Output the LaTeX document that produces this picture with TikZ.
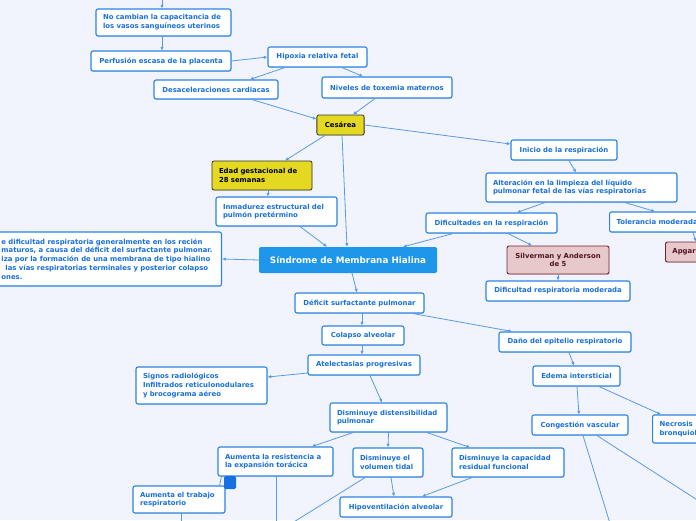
\documentclass[tikz,border=0pt]{standalone}
\usepackage{fontspec}
\setmainfont{DejaVu Sans}
\usetikzlibrary{arrows.meta,calc,shadows}

\definecolor{mapbg}{RGB}{241,244,252}
\definecolor{mapline}{RGB}{43,132,226}
\definecolor{maptext}{RGB}{24,112,220}
\definecolor{maplink}{RGB}{88,154,232}
\definecolor{mapmain}{RGB}{30,150,234}
\definecolor{mapyellow}{RGB}{228,216,32}
\definecolor{mappink}{RGB}{231,201,203}
\definecolor{mapmaroon}{RGB}{112,32,44}
\definecolor{maptoggle}{RGB}{22,112,226}

\begin{document}
\begin{tikzpicture}[
  x=1pt,y=-1pt,
  line cap=round,line join=round,
  mapfont/.style={font=\fontsize{6.9}{8.8}\selectfont\bfseries},
  mapbox/.style={mapfont,draw=mapline,line width=1.1pt,fill=white,
    text=maptext,rounded corners=2pt,inner xsep=8pt,inner ysep=2pt,
    drop shadow={shadow xshift=0.4pt,shadow yshift=-0.9pt,opacity=0.22}},
  leftbox/.style={mapbox,align=left,text width=#1,inner xsep=7pt,
    execute at begin node={\hyphenpenalty=10000}},
  keybox/.style={mapbox,fill=mapyellow,draw=black!80,text=black,
    line width=0.8pt},
  scalebox/.style={mapbox,fill=mappink,draw=mapmaroon,
    text=mapmaroon!70!black,line width=0.9pt},
  mainbox/.style={font=\fontsize{8.8}{10}\selectfont\bfseries,
    fill=mapmain,text=white,rounded corners=2pt},
  link/.style={draw=maplink,line width=0.8pt,
    -{Latex[length=3.6pt,width=3.4pt]}},
  stub/.style={draw=maplink,line width=0.8pt}
]
  % Canvas.
  \useasboundingbox (0,0) rectangle (696,520);
  \fill[mapbg] (0,0) rectangle (696,520);
  \clip (0,0) rectangle (696,520);

  % Upper branch: causes around the cesarean.
  \node[leftbox=121pt,minimum height=27pt] (nocamb) at (163.5,22.5)
    {No cambian la capacitancia de\\los vasos sanguíneos uterinos};
  \node[mapbox,minimum width=140pt,minimum height=20pt] (perf) at (161,61)
    {Perfusión escasa de la placenta};
  \node[mapbox,minimum width=99pt,minimum height=20pt] (hipox) at (317.5,57)
    {Hipoxia relativa fetal};
  \node[mapbox,minimum width=124pt,minimum height=19pt] (desac) at (216,89.5)
    {Desaceleraciones cardiacas};
  \node[mapbox,minimum width=130pt,minimum height=21pt] (toxem) at (387,87.5)
    {Niveles de toxemia maternos};
  \node[keybox,minimum width=47pt,minimum height=20pt] (cesar) at (340.5,125)
    {Cesárea};
  \node[keybox,align=left,text width=86pt,inner xsep=7pt,minimum height=29pt]
    (edad) at (262,175.5) {Edad gestacional de\\28 semanas};
  \node[leftbox=107pt,minimum height=29pt] (inmad) at (276.5,211.5)
    {Inmadurez estructural del\\pulmón pretérmino};

  % Central topic and its definition.
  \node[mainbox,minimum width=178pt,minimum height=26pt] (sindr)
    at (348,260) {Síndrome de Membrana Hialina};
  \node[mapbox,align=left,anchor=east,minimum height=54pt,inner xsep=9pt]
    (defin) at (222,259)
    {e dificultad respiratoria generalmente en los recién\\
     maturos, a causa del déficit del surfactante pulmonar.\\
     iza por la formación de una membrana de tipo hialino\\
     \hspace{4pt}las vías respiratorias terminales y posterior colapso\\
     ones.};

  % Right branch: breathing.
  \node[mapbox,minimum width=106pt,minimum height=20pt] (inicio)
    at (564,150) {Inicio de la respiración};
  \node[leftbox=177pt,minimum height=29pt] (alter) at (581.5,187.5)
    {Alteración en la limpieza del líquido\\pulmonar fetal de las vías respiratorias};
  \node[mapbox,minimum width=131pt,minimum height=20pt] (difres)
    at (491.5,223) {Dificultades en la respiración};
  \node[leftbox=92pt,anchor=west,minimum height=20pt] (toler) at (609,222)
    {Tolerancia moderada};
  \node[scalebox,align=left,text width=50pt,inner xsep=7pt,anchor=west,
    minimum height=20pt] (apgar) at (665,252) {Apgar};
  \node[scalebox,align=center,minimum width=102pt,minimum height=28pt]
    (silver) at (558,260) {Silverman y Anderson\\de 5};
  \node[mapbox,minimum width=144pt,minimum height=20pt] (difmod)
    at (558,291) {Dificultad respiratoria moderada};

  % Lower branch: pathophysiology.
  \node[mapbox,minimum width=129pt,minimum height=20pt] (defic)
    at (359.5,303) {Déficit surfactante pulmonar};
  \node[mapbox,minimum width=82pt,minimum height=19pt] (colap)
    at (363,335.5) {Colapso alveolar};
  \node[mapbox,minimum width=132pt,minimum height=20pt] (dano)
    at (565,342) {Daño del epitelio respiratorio};
  \node[mapbox,minimum width=87pt,minimum height=20pt] (edema)
    at (576.5,376) {Edema intersticial};
  \node[mapbox,minimum width=96pt,minimum height=20pt] (congest)
    at (580,425) {Congestión vascular};
  \node[leftbox=60pt,anchor=west,minimum height=28pt] (necro) at (652,429)
    {Necrosis\\bronquiol};
  \node[mapbox,minimum width=112pt,minimum height=20pt] (atel)
    at (364,365) {Atelectasias progresivas};
  \node[leftbox=117pt,minimum height=37pt] (signos) at (201.5,385.5)
    {Signos radiológicos\\Infiltrados reticulonodulares\\y brocograma aéreo};
  \node[leftbox=103pt,minimum height=29pt] (distens) at (388.5,417.5)
    {Disminuye distensibilidad\\pulmonar};
  \node[leftbox=101pt,minimum height=29pt] (resist) at (275.5,461.5)
    {Aumenta la resistencia a\\la expansión torácica};
  \node[leftbox=56pt,minimum height=29pt] (voltid) at (388,462.5)
    {Disminuye el\\volumen tidal};
  \node[leftbox=98pt,minimum height=29pt] (capres) at (508,462.5)
    {Disminuye la capacidad\\residual funcional};
  \node[mapbox,minimum width=112pt,minimum height=20pt] (hipov)
    at (396,507) {Hipoventilación alveolar};
  \node[leftbox=78pt,minimum height=27pt] (trabaj) at (179,499.5)
    {Aumenta el trabajo\\respiratorio};

  % Free ends below and beside the canvas.
  \coordinate (topin) at (162,-6);
  \coordinate (cvdown) at (612,530);
  \coordinate (cvside) at (720,514.5);
  \coordinate (vtdown) at (289,525);
  \coordinate (rsdown) at (276,528);
  \coordinate (trdown) at (181,528);

  % Connectors, upper part.
  \draw[link] (topin) -- ([xshift=-1.5pt]nocamb.north);
  \draw[link] ([xshift=-1.5pt]nocamb.south) -- ([xshift=1pt]perf.north);
  \draw[link] (perf.east) -- (hipox.west);
  \draw[link] ([xshift=-32.5pt]hipox.south) -- ([xshift=34pt]desac.north);
  \draw[link] ([xshift=24.5pt]hipox.south) -- ([xshift=-24pt]toxem.north);
  \draw[link] ([xshift=36pt]desac.south) -- ([yshift=6pt]cesar.west);
  \draw[link] ([xshift=-12pt]toxem.south) -- ([xshift=12.5pt]cesar.north);
  \draw[link] ([xshift=-15.5pt]cesar.south) -- ([xshift=23pt]edad.north);
  \draw[link] ([xshift=1.5pt]cesar.south) -- ([xshift=-1pt]sindr.north);
  \draw[link] (cesar.east) -- ([yshift=6pt]inicio.west);
  \draw[link] ([xshift=6pt]edad.south) -- ([xshift=-8.5pt]inmad.north);
  \draw[link] ([xshift=23.5pt]inmad.south) -- ([xshift=-21pt]sindr.north);

  % Connectors, right part.
  \draw[link] ([xshift=5pt]inicio.south) -- ([xshift=-5.5pt]alter.north);
  \draw[link] ([xshift=-36.5pt]alter.south) -- ([xshift=25.5pt]difres.north);
  \draw[link] ([xshift=43.5pt]alter.south) -- ([xshift=46pt]toler.north west);
  \draw[link] ([xshift=84pt]toler.south west) -- ([xshift=31pt]apgar.north west);
  \draw[link] ([xshift=16.5pt]difres.south) -- ([xshift=-26pt]silver.north);
  \draw[link] ([xshift=-38.5pt]difres.south) -- ([xshift=55pt]sindr.north);
  \draw[link] (silver.south) -- (difmod.north);
  \draw[link] (sindr.west) -- (defin.east);

  % Connectors, lower part.
  \draw[link] ([xshift=4pt]sindr.south) -- ([xshift=-2.5pt]defic.north);
  \draw[link] ([xshift=2.5pt]defic.south) -- ([xshift=-1pt]colap.north);
  \draw[link] ([xshift=53.5pt]defic.south) -- ([xshift=-53pt]dano.north);
  \draw[link] ([xshift=4pt]dano.south) -- ([xshift=-2.5pt]edema.north);
  \draw[link] ([xshift=0.5pt]edema.south) -- ([xshift=-1pt]congest.north);
  \draw[link] ([xshift=22.5pt]edema.south) -- ([xshift=9pt]necro.north west);
  \draw[link] ([xshift=3pt]congest.south) -- (cvdown);
  \draw[link] ([xshift=17pt]congest.south) -- (cvside);
  \draw[link] ([xshift=-1pt]colap.south) -- ([xshift=-2pt]atel.north);
  \draw[link] ([yshift=-8pt]atel.west) -- ([yshift=8.5pt]signos.east);
  \draw[link] ([xshift=6pt]atel.south) -- ([xshift=-6.5pt]distens.north);
  \draw[link] ([xshift=-35.5pt]distens.south) -- ([xshift=36.5pt]resist.north);
  \draw[link] (distens.south) -- (voltid.north);
  \draw[link] ([xshift=38.5pt]distens.south) -- ([xshift=-38pt]capres.north);
  \draw[link] ([xshift=3pt]voltid.south) -- ([xshift=-2pt]hipov.north);
  \draw[link] ([xshift=-36pt]capres.south) -- ([xshift=26pt]hipov.north);
  \draw[link] ([xshift=-23pt]voltid.south) -- (vtdown);
  \draw[stub] ([xshift=0.5pt]resist.south) -- (rsdown);
  \draw[stub] ([xshift=2pt]trabaj.south) -- (trdown);
  \draw[stub] ([xshift=4pt]resist.south west) -- ([xshift=-6pt]trabaj.north east);

  % Collapse toggle.
  \node[fill=maptoggle,rounded corners=1.5pt,minimum width=12pt,
    minimum height=13pt,inner sep=0pt] (toggle) at (230,482.5) {};
\end{tikzpicture}
\end{document}
